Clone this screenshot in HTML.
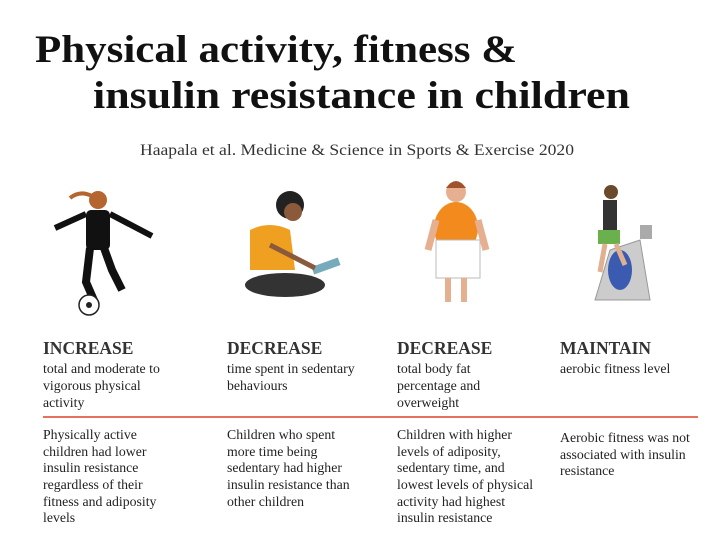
<!DOCTYPE html>
<html><head><meta charset="utf-8"><style>
body{margin:0;background:#fff;}
svg{display:block;}
text{font-family:"Liberation Serif",serif;}
</style></head><body>
<svg width="720" height="540" viewBox="0 0 720 540" xmlns="http://www.w3.org/2000/svg">
<rect width="720" height="540" fill="#fff"/>
<text x="35" y="62" font-size="39" font-weight="bold" fill="#111" textLength="482" lengthAdjust="spacingAndGlyphs">Physical activity, fitness &amp;</text>
<text x="93" y="108" font-size="39" font-weight="bold" fill="#111" textLength="537" lengthAdjust="spacingAndGlyphs">insulin resistance in children</text>
<text x="140" y="155" font-size="16" fill="#333" textLength="434" lengthAdjust="spacingAndGlyphs">Haapala et al. Medicine &amp; Science in Sports &amp; Exercise 2020</text>

<g>
<circle cx="98" cy="200" r="9" fill="#b5652f"/>
<path d="M70 198 q10 -8 22 -2" stroke="#b5652f" stroke-width="4" fill="none"/>
<rect x="86" y="210" width="24" height="40" rx="5" fill="#111"/>
<path d="M86 214 L55 228 M110 214 L152 236" stroke="#111" stroke-width="6"/>
<path d="M90 248 L86 282 L96 305 M104 248 L112 270 L122 290" stroke="#111" stroke-width="8" fill="none"/>
<circle cx="89" cy="305" r="10" fill="#fff" stroke="#222" stroke-width="1.5"/>
<circle cx="89" cy="305" r="3" fill="#222"/>
</g>
<g>
<circle cx="290" cy="205" r="14" fill="#222"/>
<circle cx="293" cy="212" r="9" fill="#8a5a3a"/>
<path d="M250 230 q20 -10 40 0 l5 40 l-45 0 z" fill="#f0a020"/>
<ellipse cx="285" cy="285" rx="40" ry="12" fill="#333"/>
<rect x="312" y="262" width="28" height="8" fill="#7ab" transform="rotate(-20 326 266)"/>
<path d="M270 245 L315 268" stroke="#8a5a3a" stroke-width="5"/>
</g>
<g>
<circle cx="456" cy="192" r="10" fill="#e6b090"/>
<path d="M446 188 q10 -14 20 0" fill="#a0522d"/>
<ellipse cx="456" cy="228" rx="22" ry="26" fill="#f28a1e"/>
<rect x="436" y="240" width="44" height="38" fill="#fff" stroke="#bbb"/>
<path d="M436 220 L428 250 M478 220 L486 250" stroke="#e6b090" stroke-width="7"/>
<path d="M448 278 L448 302 M464 278 L464 302" stroke="#e6b090" stroke-width="6"/>
</g>
<g>
<path d="M595 300 L650 300 L640 240 L610 250 Z" fill="#ccc" stroke="#999"/>
<ellipse cx="620" cy="270" rx="12" ry="20" fill="#3a5bb0"/>
<rect x="640" y="225" width="12" height="14" fill="#aaa"/>
<circle cx="611" cy="192" r="7" fill="#6a4a2a"/>
<rect x="603" y="200" width="14" height="30" fill="#333"/>
<rect x="598" y="230" width="22" height="14" fill="#6ab04c"/>
<path d="M605 244 L600 272 M616 244 L625 265" stroke="#e0b090" stroke-width="5"/>
</g>

<g font-size="17.5" font-weight="bold" fill="#333">
<text x="43" y="354">INCREASE</text>
<text x="227" y="354">DECREASE</text>
<text x="397" y="354">DECREASE</text>
<text x="560" y="354">MAINTAIN</text>
</g>
<g font-size="13.8" fill="#222">
<text x="43" y="373">total and moderate to</text>
<text x="43" y="390">vigorous physical</text>
<text x="43" y="407">activity</text>
<text x="227" y="373">time spent in sedentary</text>
<text x="227" y="390">behaviours</text>
<text x="397" y="373">total body fat</text>
<text x="397" y="390">percentage and</text>
<text x="397" y="407">overweight</text>
<text x="560" y="373">aerobic fitness level</text>
</g>
<line x1="43" y1="417" x2="698" y2="417" stroke="#e8705e" stroke-width="2"/>
<g font-size="13.8" fill="#222">
<text x="43" y="439">Physically active</text>
<text x="43" y="456">children had lower</text>
<text x="43" y="472">insulin resistance</text>
<text x="43" y="489">regardless of their</text>
<text x="43" y="506">fitness and adiposity</text>
<text x="43" y="522">levels</text>
<text x="227" y="439">Children who spent</text>
<text x="227" y="456">more time being</text>
<text x="227" y="472">sedentary had higher</text>
<text x="227" y="489">insulin resistance than</text>
<text x="227" y="506">other children</text>
<text x="397" y="439">Children with higher</text>
<text x="397" y="456">levels of adiposity,</text>
<text x="397" y="472">sedentary time, and</text>
<text x="397" y="489">lowest levels of physical</text>
<text x="397" y="506">activity had highest</text>
<text x="397" y="522">insulin resistance</text>
<text x="560" y="442">Aerobic fitness was not</text>
<text x="560" y="459">associated with insulin</text>
<text x="560" y="475">resistance</text>
</g>
</svg>
</body></html>
